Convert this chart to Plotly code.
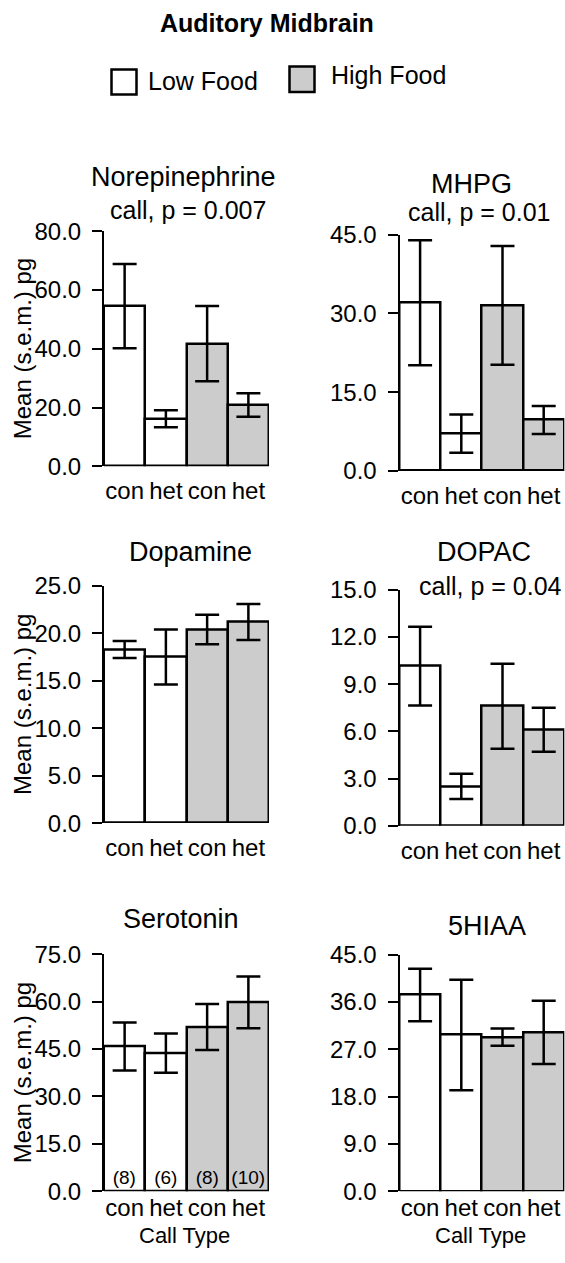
import plotly.graph_objects as go

# ---------------- data ----------------
categories = ["con", "het", "con", "het"]
low_idx = [0, 1]
high_idx = [2, 3]

panel_titles = ["Norepinephrine", "MHPG", "Dopamine", "DOPAC", "Serotonin", "5HIAA"]
panel_stats = ["call, p = 0.007", "call, p = 0.01", "", "call, p = 0.04", "", ""]

ne_mean = [54.5, 16.2, 41.7, 20.9]
ne_sem = [14.3, 2.9, 12.8, 4.0]
mhpg_mean = [32.0, 7.1, 31.5, 9.7]
mhpg_sem = [11.9, 3.65, 11.3, 2.65]
da_mean = [18.3, 17.5, 20.4, 21.2]
da_sem = [0.9, 2.9, 1.55, 1.9]
dopac_mean = [10.15, 2.5, 7.6, 6.1]
dopac_sem = [2.5, 0.8, 2.7, 1.4]
ht_mean = [45.8, 43.7, 52.0, 59.8]
ht_sem = [7.6, 6.2, 7.3, 8.2]
hiaa_mean = [37.3, 29.7, 29.3, 30.2]
hiaa_sem = [5.0, 10.5, 1.65, 6.0]

n_labels = ["(8)", "(6)", "(8)", "(10)"]

y_max = [80, 45, 25, 15, 75, 45]
y_step = [20, 15, 5, 3, 15, 9]

means = [ne_mean, mhpg_mean, da_mean, dopac_mean, ht_mean, hiaa_mean]
sems = [ne_sem, mhpg_sem, da_sem, dopac_sem, ht_sem, hiaa_sem]

# ---------------- layout geometry (target-picture pixels) ----------------
W, H = 565, 1263
# measured mapping of page rows onto the photographed picture rows
V_OFF, V_SCALE = 12.04, 0.9793
FONT = "Liberation Sans, Arial, Helvetica, sans-serif"
WHITE = "#ffffff"
GRAY = "#cccccc"

boxes = [
    (104, 269, 229.3, 464.7),
    (399.5, 564.3, 232.7, 469.3),
    (104, 269, 584.3, 821.7),
    (399.5, 564.3, 588.3, 824.3),
    (104, 269, 953, 1190),
    (399.5, 564.3, 953.3, 1190),
]
title_pos = [(183, 175), (471, 182.5), (190, 550), (484, 550), (181, 917.5), (487, 925)]
stat_pos = [(188, 208), (478.7, 210.3), None, (490.5, 584.6), None, None]
xlabel_standoff = [8, 8, 8, 8, 0, 0]


def px(x):
    return x / W


def py(y):
    return 1 - ((y - V_OFF) / V_SCALE) / H


fig = go.Figure()
annotations = []
shapes = []
layout_axes = {}

for i in range(6):
    k = "" if i == 0 else str(i + 1)
    xa, ya = "x" + k, "y" + k
    l, r, t, b = boxes[i]
    m, s = means[i], sems[i]
    for idx, col, name in ((low_idx, WHITE, "Low Food"), (high_idx, GRAY, "High Food")):
        tr = dict(
            x=idx,
            y=[m[j] for j in idx],
            width=[1.0] * len(idx),
            marker=dict(color=col, line=dict(color="black", width=2.5)),
            error_y=dict(type="data", array=[s[j] for j in idx], visible=True,
                         color="black", thickness=2.5, width=12),
            xaxis=xa, yaxis=ya, name=name, showlegend=False,
        )
        if i == 4:
            tr.update(text=[n_labels[j] for j in idx], textposition="inside",
                      insidetextanchor="start", textangle=0,
                      textfont=dict(family=FONT, size=19, color="black"),
                      constraintext="none")
        fig.add_trace(go.Bar(**tr))

    ticks = [v * y_step[i] for v in range(int(round(y_max[i] / y_step[i])) + 1)]
    layout_axes["xaxis" + k] = dict(
        domain=[px(l), px(r)], anchor=ya, range=[-0.5, 3.5],
        tickmode="array", tickvals=[0, 1, 2, 3], ticktext=categories,
        showline=False, zeroline=False, showgrid=False, ticks="",
        ticklabelstandoff=xlabel_standoff[i],
        tickfont=dict(family=FONT, size=24, color="black"),
    )
    layout_axes["yaxis" + k] = dict(
        domain=[py(b), py(t)], anchor=xa, range=[0, y_max[i]],
        tickmode="array", tickvals=ticks, ticktext=[f"{v:.1f}" for v in ticks],
        showline=True, linecolor="black", linewidth=2,
        ticks="outside", ticklen=10, tickwidth=2, tickcolor="black",
        ticklabelstandoff=6,
        zeroline=False, showgrid=False,
        tickfont=dict(family=FONT, size=24, color="black"),
    )

    tx, ty = title_pos[i]
    annotations.append(dict(text=panel_titles[i], x=px(tx), y=py(ty), xref="paper", yref="paper",
                            xanchor="center", yanchor="middle", showarrow=False,
                            font=dict(family=FONT, size=27, color="black")))
    if stat_pos[i] is not None:
        sx, sy = stat_pos[i]
        annotations.append(dict(text=panel_stats[i], x=px(sx), y=py(sy), xref="paper", yref="paper",
                                xanchor="center", yanchor="middle", showarrow=False,
                                font=dict(family=FONT, size=25, color="black")))
    if i % 2 == 0:
        annotations.append(dict(text="Mean (s.e.m.) pg", x=px(22.5), y=0.5, xref="paper",
                                yref=ya + " domain", textangle=-90,
                                xanchor="center", yanchor="middle", showarrow=False,
                                font=dict(family=FONT, size=24, color="black")))

# x-axis titles on bottom row (kept just inside the page bottom)
for cx in (184, 481):
    annotations.append(dict(text="Call Type", x=px(cx), y=0, xref="paper", yref="paper",
                            xanchor="center", yanchor="bottom", yshift=0, showarrow=False,
                            font=dict(family=FONT, size=22, color="black")))

# main title
annotations.append(dict(text="<b>Auditory Midbrain</b>", x=px(267), y=py(21), xref="paper", yref="paper",
                        xanchor="center", yanchor="middle", showarrow=False,
                        font=dict(family=FONT, size=25, color="black")))

# legend
shapes.append(dict(type="rect", xref="paper", yref="paper", x0=px(111.5), x1=px(136.5),
                   y0=py(92.5), y1=py(67.5), fillcolor=WHITE, line=dict(color="black", width=2.5)))
shapes.append(dict(type="rect", xref="paper", yref="paper", x0=px(289.5), x1=px(314.5),
                   y0=py(90), y1=py(64.5), fillcolor=GRAY, line=dict(color="black", width=2.5)))
annotations.append(dict(text="Low Food", x=px(146), y=py(79), xref="paper", yref="paper",
                        xanchor="left", yanchor="middle", showarrow=False,
                        font=dict(family=FONT, size=25, color="black")))
annotations.append(dict(text="High Food", x=px(329), y=py(73), xref="paper", yref="paper",
                        xanchor="left", yanchor="middle", showarrow=False,
                        font=dict(family=FONT, size=25, color="black")))

fig.update_layout(
    width=W, height=H,
    margin=dict(l=0, r=0, t=0, b=0, pad=0),
    paper_bgcolor="white", plot_bgcolor="white",
    barmode="overlay", bargap=0,
    showlegend=False,
    annotations=annotations, shapes=shapes,
    font=dict(family=FONT, color="black"),
    **layout_axes,
)

fig.write_html(
    "out.html",
    config={"displayModeBar": False},
    post_script="document.body.style.margin='0';document.body.style.overflow='hidden';",
)
